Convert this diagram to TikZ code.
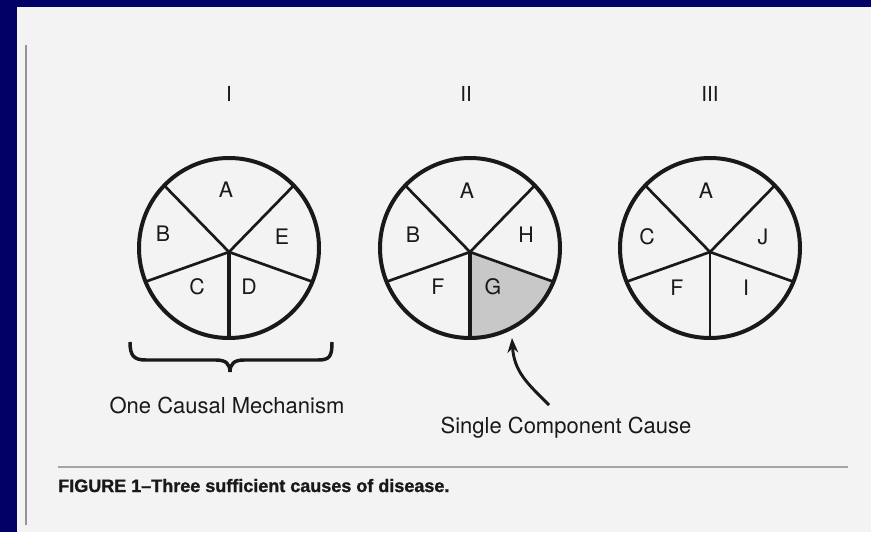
\documentclass[tikz,border=0pt]{standalone}
\usepackage{fontspec}
\setmainfont{TeX Gyre Heros}
\newfontfamily\capfont[FakeBold=1.2]{Liberation Sans}
\usepackage{tikz}
\usetikzlibrary{arrows.meta,calc}
\definecolor{navy}{RGB}{0,0,102}
\definecolor{paper}{RGB}{243,243,243}
\definecolor{ink}{RGB}{25,25,25}
\definecolor{gshade}{RGB}{200,200,200}
\definecolor{rulegray}{RGB}{165,165,165}

\begin{document}
\begin{tikzpicture}[
    x=0.75pt, y=-0.75pt,
    wheel/.style={circle, draw=ink, line width=3pt, minimum size=135pt, inner sep=0pt, outer sep=0pt},
    spoke/.style={draw=ink, line width=2pt},
    sector/.style={font=\fontsize{16}{16}\selectfont, text=ink, inner sep=0pt},
    numeral/.style={font=\fontsize{15.5}{15.5}\selectfont, text=ink, inner sep=0pt},
    note/.style={font=\fontsize{16.5}{16.5}\selectfont, text=ink, inner sep=0pt},
    pointer/.style={draw=ink, line width=2.2pt, -{Stealth[length=11pt,width=8pt]}}
]
    % Page and panel
    \fill[navy] (0,0) rectangle (871,532);
    \useasboundingbox (0,0) rectangle (871,532);
    \fill[paper] (17,7) rectangle (871,532);
    \draw[rulegray!90!black, line width=1.5pt] (26,45) -- (26,525);

    % Wheel centres and hubs
    \coordinate (c1) at (229,248);
    \coordinate (c2) at (470,248);
    \coordinate (c3) at (710,248);
    \coordinate (h1) at (229,252);
    \coordinate (h2) at (470,252);
    \coordinate (h3) at (710,252);

    % Shaded component G
    \fill[gshade] (h2) -- ($(c2)+(-22:67.5pt)$) arc[start angle=-22, end angle=-90, radius=67.5pt] -- cycle;

    % Three wheels
    \foreach \w in {1,2,3} {
        \node[wheel] (w\w) at (c\w) {};
        \foreach \a in {136,44,202,-22} {
            \draw[spoke] (h\w) -- (w\w.\a);
        }
    }
    \draw[spoke, line width=3pt] (h1) -- (w1.-90);
    \draw[spoke, line width=3pt] (h2) -- (w2.-90);
    \draw[spoke, line width=1.8pt] (h3) -- (w3.-90);

    % Roman numerals
    \node[numeral] (n1) at (229,94) {I};
    \node[numeral] (n2) at (466,94) {II};
    \node[numeral] (n3) at (710,94) {III};

    % Component letters
    \foreach \w/\lab/\x/\y in {1/A/226/190, 1/B/163/234, 1/E/282/237, 1/C/197/287, 1/D/249/287,
                               2/A/467/191, 2/B/413/235, 2/H/526/235, 2/F/438/287, 2/G/493/287,
                               3/A/706/191, 3/C/647/237, 3/J/763/237, 3/F/677/288, 3/I/746/288} {
        \node[sector] (s\w\lab) at (\x,\y) {\lab};
    }

    % Brace under wheel I
    \draw[ink, line width=2.6pt] (130,342) .. controls (130,356) and (134,360) .. (146,360)
        -- (216,360) .. controls (226,360) and (230,364) .. (230,372)
        .. controls (230,364) and (234,360) .. (244,360)
        -- (318,360) .. controls (330,360) and (332,356) .. (332,342);
    \node[note] (mech) at (227,405.5) {One Causal Mechanism};

    % Arrow to component G
    \coordinate (arrowfoot) at (549,405);
    \coordinate (arrowtip) at (512,338);
    \draw[pointer] (arrowfoot) .. controls (528,384) and (514,372) .. (arrowtip);
    \node[note] (single) at (566,427.5) {Single Component Cause};

    % Caption
    \draw[rulegray, line width=1.5pt] (58,467) -- (848,467);
    \node[anchor=base west, inner sep=0pt, text=ink, font=\capfont\bfseries\fontsize{13.5}{13.5}\selectfont] (caption) at (58,492) {FIGURE 1–Three sufficient causes of disease.};
\end{tikzpicture}
\end{document}
